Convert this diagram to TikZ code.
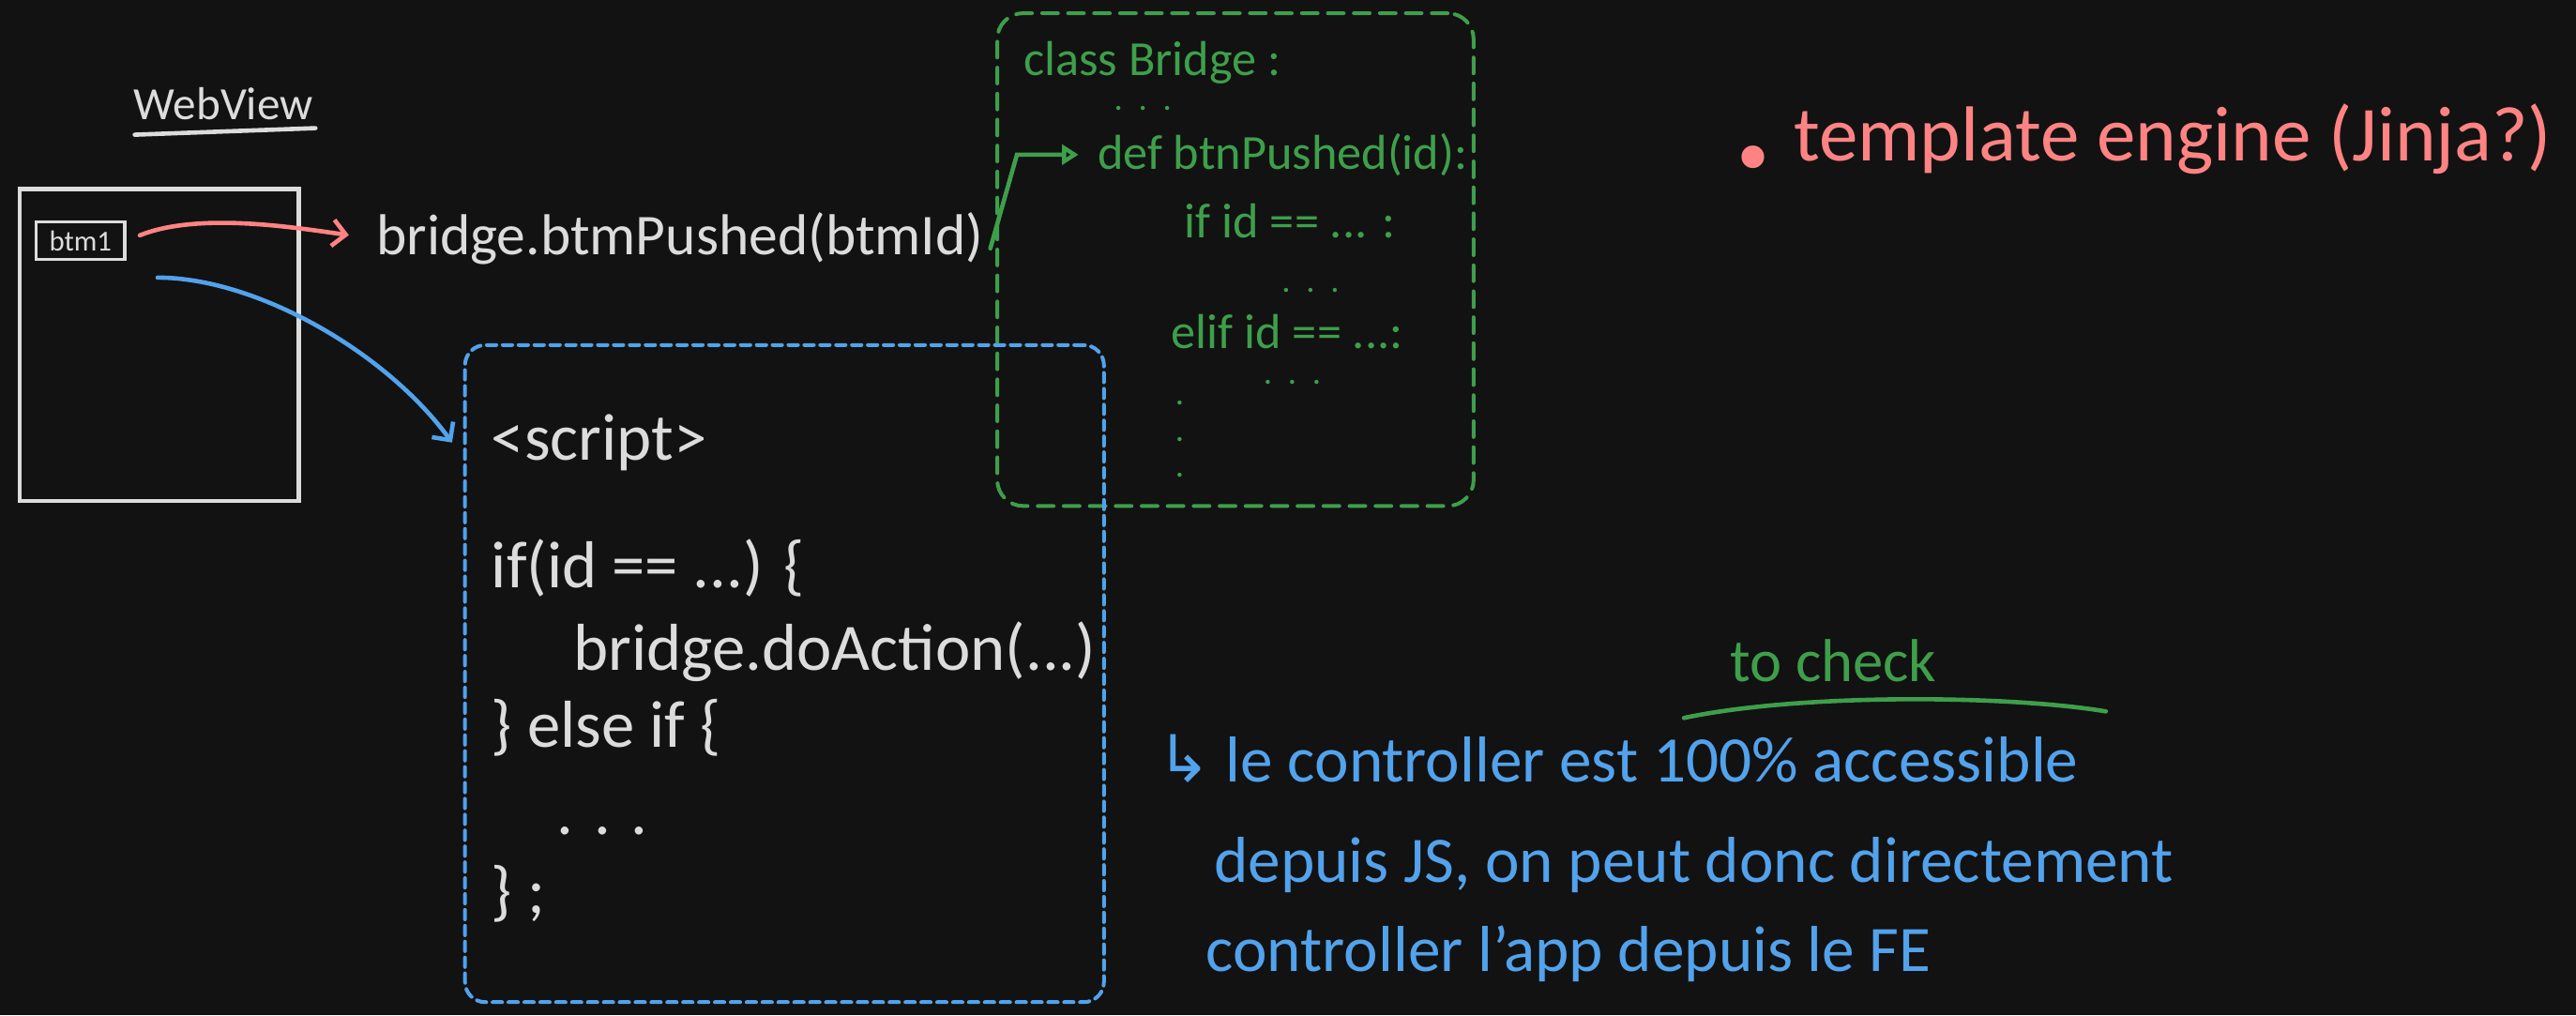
\documentclass[tikz,border=0pt]{standalone}
\usepackage{fontspec}
\setmainfont{Carlito}
\newfontfamily\symfont{DejaVu Sans}
\usetikzlibrary{arrows.meta, positioning, calc}
\definecolor{cbg}{HTML}{121212}
\definecolor{cwhite}{HTML}{DCDCDC}
\definecolor{cred}{HTML}{FF8383}
\definecolor{cgreen}{HTML}{3E9F4B}
\definecolor{cblue}{HTML}{52A2EC}
\newcommand\szweb{\fontsize{16pt}{19pt}\selectfont}
\newcommand\szbtn{\fontsize{10pt}{12pt}\selectfont}
\newcommand\szcall{\fontsize{20pt}{24pt}\selectfont}
\newcommand\szgreen{\fontsize{17pt}{20pt}\selectfont}
\newcommand\szdots{\fontsize{12pt}{12.5pt}\selectfont}
\newcommand\szcode{\fontsize{23pt}{27pt}\selectfont}
\newcommand\sznote{\fontsize{22.5pt}{26pt}\selectfont}
\newcommand\szcheck{\fontsize{21pt}{25pt}\selectfont}
\newcommand\szred{\fontsize{27pt}{32pt}\selectfont}
\tikzset{
  every picture/.style={line width=1.3pt, line cap=round},
  txt/.style={text=#1, inner sep=0pt, anchor=base west},
  txt/.default=cwhite,
  dashbox/.style={draw=#1, inner sep=0pt, line width=1.3pt},
  sketch/.style={draw=cwhite, line width=1.5pt, inner sep=0pt},
  conn/.style={draw=#1, line width=1.5pt, -{Straight Barb[length=1.6mm, width=3.2mm]}},
}

\begin{document}
\begin{tikzpicture}[x=0.02cm, y=-0.02cm]
  \fill[cbg] (0,0) rectangle (1568,618);
  \useasboundingbox (0,0) rectangle (1568,618);
  % dashed containers
  \node[dashbox=cgreen, dash pattern=on 5.5pt off 3.5pt, rounded corners=9pt, minimum width=5.8cm, minimum height=6cm] (bridgebox) at (752,158) {};
  \node[dashbox=cblue, dash pattern=on 3.3pt off 2.2pt, rounded corners=7pt, minimum width=7.78cm, minimum height=8cm] (scriptbox) at (477.5,410) {};
  % webview
  \node[txt, anchor=center, font=\szweb] (wvlabel) at (136,63) {WebView};
  \draw[sketch] ([shift={(-54,19)}]wvlabel.center) -- ([shift={(56,15)}]wvlabel.center);
  \node[sketch, minimum width=3.4cm, minimum height=3.8cm] (webview) at (97,210) {};
  \node[sketch, line width=1.1pt, text=cwhite, font=\szbtn, minimum width=1.08cm, minimum height=0.46cm] (btn1) at (49,146.5) {btm1};
  \node[txt, font=\szcall] (call) at (228,155) {bridge.btmPushed(btmId)};
  \draw[conn=cred, shorten <=5pt, shorten >=9pt] (btn1.east) .. controls +(45,-18) and +(-45,-6) .. (call.west);
  % python side
  \node[txt=cgreen, font=\szgreen] (cls) at (622,46) {class Bridge :};
  \node[txt=cgreen, font=\szdots] (gdots1) at (677,67) {.\ \ .\ \ .};
  \node[txt=cgreen, font=\szgreen] (def) at (667,103) {def btnPushed(id):};
  \node[txt=cgreen, font=\szgreen] (gif) at (720,145) {if id == ... :};
  \node[txt=cgreen, font=\szdots] (gdots2) at (779,178) {.\ \ .\ \ .};
  \node[txt=cgreen, font=\szgreen] (elif) at (712,212) {elif id == ...:};
  \node[txt=cgreen, font=\szdots] (gdots3) at (768,234) {.\ \ .\ \ .};
  \node[txt=cgreen, font=\szdots, align=center, anchor=north] (gvdots) at (718,243) {.\\.\\.};
  \draw[conn=cgreen, -{Triangle[open, length=2mm, width=2.4mm]}, shorten >=6pt] ([shift={(3,6)}]call.east) -- ($(def.west)+(-48,0)$) -- (def.west);
  % js side
  \node[txt, font=\szcode] (script) at (298,280) {<script>};
  \node[txt, font=\szcode] (wif) at (298,358) {if(id == ...) \{};
  \node[txt, font=\szcode] (action) at (348,408) {bridge.doAction(...)};
  \node[txt, font=\szcode] (welse) at (298,455) {\} else if \{};
  \node[txt, font=\szcode] (wdots) at (338,508) {. . .};
  \node[txt, font=\szcode] (wend) at (298,556) {\} ;};
  \draw[conn=cblue] ([shift={(19,10)}]btn1.south east) .. controls +(60,0) and +(-40,-55) .. ([xshift=-13pt]script.west);
  % notes
  \node[txt=cblue, font=\sznote] (note1) at (703,476) {{\symfont ↳} le controller est 100\% accessible};
  \node[txt=cblue, font=\sznote] (note2) at (738,537) {depuis JS, on peut donc directement};
  \node[txt=cblue, font=\sznote] (note3) at (733,591) {controller l'app depuis le FE};
  \node[txt=cgreen, font=\szcheck] (tocheck) at (1052,415) {to check};
  \draw[cgreen, line width=1.5pt] ([shift={(-27,22)}]tocheck.base west) .. controls +(70,-15) and +(-60,-10) .. ([shift={(102,18)}]tocheck.base east);
  \node[txt=cred, font=\szred] (tmpl) at (1052,98) {{\symfont\raisebox{-0.6ex}{•}} template engine (Jinja?)};
\end{tikzpicture}
\end{document}
